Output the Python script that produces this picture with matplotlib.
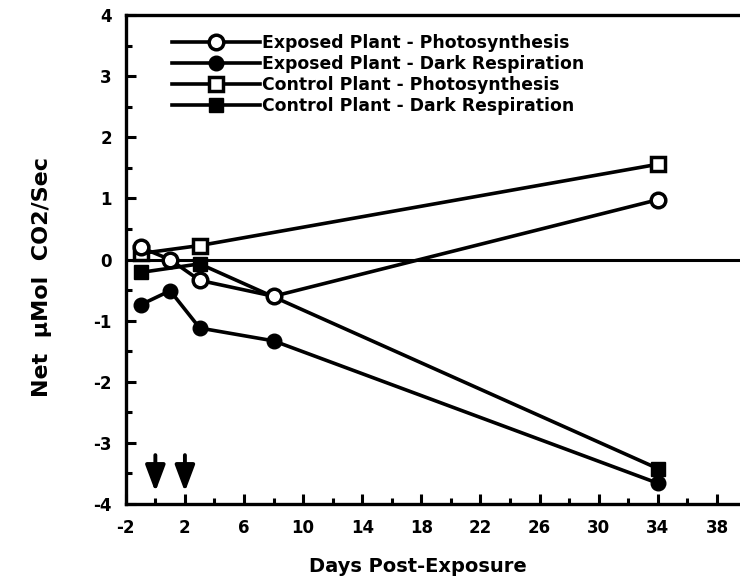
import matplotlib
matplotlib.use("Agg")
import matplotlib.pyplot as plt
from matplotlib.ticker import MultipleLocator, FixedLocator

plt.rcParams['font.family'] = ['DejaVu Sans']
plt.rcParams['font.weight'] = 'bold'
plt.rcParams['axes.unicode_minus'] = False

# data
days = [-1, 1, 3, 8, 34]
exp_photo = [0.2, 0.0, -0.34, -0.6, 0.98]
exp_dark = [-0.74, -0.51, -1.12, -1.33, -3.66]

ctl_days = [-1, 3, 34]
ctl_photo = [0.1, 0.23, 1.56]
ctl_dark = [-0.21, -0.07, -3.42]

# exposure days marked with arrows
arrow_days = [0, 2]
arrow_top, arrow_tip = -3.2, -3.8

labels = ["Exposed Plant - Photosynthesis",
          "Exposed Plant - Dark Respiration",
          "Control Plant - Photosynthesis",
          "Control Plant - Dark Respiration"]

fig = plt.figure(figsize=(7.4, 5.84), dpi=100)
ax = fig.add_axes([0.170, 0.137, 0.830, 0.837])

lw = 2.6
ms = 10.5
ax.axhline(0, color='black', lw=2.2, zorder=1)
ax.plot(days, exp_photo, '-o', color='black', lw=lw, ms=ms, mfc='white',
        mew=2.5, label=labels[0], zorder=4)
ax.plot(days, exp_dark, '-o', color='black', lw=lw, ms=ms, mfc='black',
        label=labels[1], zorder=3)
ax.plot(ctl_days, ctl_photo, '-s', color='black', lw=lw, ms=ms, mfc='white',
        mew=2.5, label=labels[2], zorder=3)
ax.plot(ctl_days, ctl_dark, '-s', color='black', lw=lw, ms=ms, mfc='black',
        label=labels[3], zorder=3)

for d in arrow_days:
    ax.annotate('', xy=(d, arrow_tip), xytext=(d, arrow_top),
                arrowprops=dict(arrowstyle='-|>,head_width=0.6,head_length=1.6',
                                color='black', lw=2.8, shrinkA=0, shrinkB=0))

ax.set_xlim(-2, 39.56)
ax.set_ylim(-4, 4)
ax.xaxis.set_major_locator(FixedLocator(list(range(-2, 39, 4))))
ax.xaxis.set_minor_locator(FixedLocator(list(range(0, 39, 4))))
ax.yaxis.set_major_locator(MultipleLocator(1))
ax.yaxis.set_minor_locator(MultipleLocator(0.5))

ax.spines['right'].set_visible(False)
for s in ['left', 'bottom', 'top']:
    ax.spines[s].set_linewidth(2.4)

ax.tick_params(axis='both', which='major', direction='in', length=7, width=2.2,
               labelsize=12)
ax.tick_params(axis='y', which='major', pad=10)
ax.tick_params(axis='x', which='major', pad=11)
ax.tick_params(axis='both', which='minor', direction='in', length=4, width=2.2)
ax.tick_params(top=False, right=False, which='both')
for t in ax.get_xticklabels() + ax.get_yticklabels():
    t.set_fontweight('bold')

fig.text(418 / 740, 1 - 566 / 584, 'Days Post-Exposure', fontsize=14,
         fontweight='bold', ha='center', va='center')
fig.text(42 / 740, 1 - 277 / 584, 'Net  \u00b5Mol  CO2/Sec', fontsize=16,
         fontweight='bold', ha='center', va='center', rotation=90)

leg = ax.legend(loc='upper left', bbox_to_anchor=(0.075, 0.962), frameon=False,
                fontsize=12.4, handlelength=5.1, handletextpad=0.15,
                labelspacing=0.17, borderaxespad=0, borderpad=0)
for t in leg.get_texts():
    t.set_fontweight('bold')

fig.savefig('out.png', dpi=100)
